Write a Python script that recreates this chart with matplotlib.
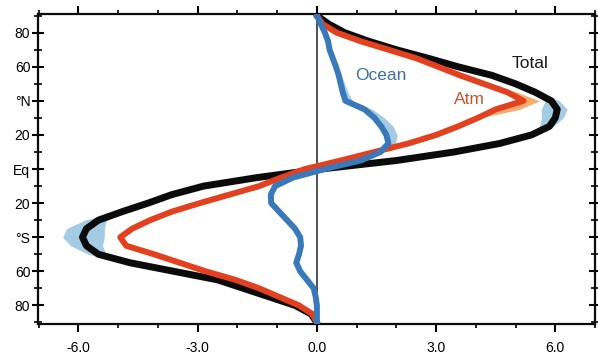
import matplotlib
matplotlib.use("Agg")
import matplotlib.pyplot as plt
from matplotlib.ticker import MultipleLocator, FixedLocator

# Zonal-mean northward heat transport (PW) by latitude
lat = [90, 85, 80, 75, 70, 65, 60, 55, 50, 45, 40, 35, 30, 25, 20, 15, 10, 5, 0,
       -5, -10, -15, -20, -25, -30, -35, -40, -45, -50, -55, -60, -65, -70, -75, -80, -85, -90]

total = [0.0, 0.3, 0.7, 1.3, 2.0, 2.8, 3.55, 4.4, 5.0, 5.5, 5.9, 6.05, 6.0, 5.85, 5.4, 4.6, 3.45, 2.0, 0.1,
         -1.5, -2.85, -3.65, -4.25, -4.9, -5.5, -5.8, -5.9, -5.8, -5.5, -4.7, -3.6, -2.5, -1.85, -1.2, -0.55, -0.15, 0.0]

atm = [0.0, 0.15, 0.5, 1.1, 1.8, 2.5, 3.05, 3.6, 4.2, 4.8, 5.2, 4.5, 4.05, 3.55, 3.0, 2.3, 1.45, 0.6, -0.3,
       -0.9, -1.45, -2.2, -2.95, -3.65, -4.2, -4.65, -4.95, -4.8, -4.1, -3.45, -2.8, -2.05, -1.45, -0.95, -0.45, -0.12, 0.0]

ocean = [0.0, 0.1, 0.2, 0.28, 0.32, 0.4, 0.48, 0.55, 0.6, 0.65, 0.72, 1.2, 1.45, 1.62, 1.75, 1.8, 1.6, 1.1, 0.2,
         -0.6, -1.05, -1.16, -1.15, -0.95, -0.75, -0.55, -0.42, -0.4, -0.45, -0.52, -0.42, -0.25, -0.08, -0.03, 0.0, 0.0, 0.0]

# Spread of alternative estimates
tot_n_lat = [50, 45, 40, 35, 30, 25, 20, 15]
tot_n_lo = [5.0, 5.45, 5.75, 5.65, 5.65, 5.6, 5.3, 4.6]
tot_n_hi = [5.0, 5.6, 6.1, 6.3, 6.2, 5.95, 5.5, 4.6]

tot_s_lat = [-20, -25, -30, -35, -40, -45, -50, -55, -60]
tot_s_lo = [-4.25, -5.0, -5.85, -6.3, -6.4, -6.2, -5.75, -4.85, -3.6]
tot_s_hi = [-4.25, -4.8, -5.3, -5.35, -5.35, -5.4, -5.3, -4.6, -3.6]

ocn_n_lat = [60, 55, 50, 45, 40, 35, 30, 25, 20, 15, 10]
ocn_n_lo = [0.48, 0.55, 0.6, 0.65, 0.72, 1.2, 1.45, 1.62, 1.75, 1.8, 1.6]
ocn_n_hi = [0.48, 0.62, 0.7, 0.78, 0.9, 1.4, 1.7, 1.92, 2.02, 1.98, 1.6]

atm_n_lat = [50, 45, 40, 35, 30]
atm_n_lo = [4.2, 4.8, 5.2, 4.5, 4.05]
atm_n_hi = [4.25, 5.05, 5.6, 5.1, 4.1]

ytick_pos = [80, 60, 40, 20, 0, -20, -40, -60, -80]
ytick_lab = ["80", "60", "°N", "20", "Eq", "20", "°S", "60", "80"]
xtick_pos = [-6, -3, 0, 3, 6]
xtick_lab = ["-6.0", "-3.0", "0.0", "3.0", "6.0"]

BLACK = "#0b0b0b"
RED = "#e2401f"
BLUE = "#3a79b9"
LBLUE = "#a3cbe3"
ORANGE = "#f6ad6c"

plt.rcParams["font.family"] = ["Liberation Sans", "DejaVu Sans"]

fig = plt.figure(figsize=(5.98, 3.57), dpi=100)
ax = fig.add_axes([0.0635, 0.092, 0.9315, 0.869])

ax.axvline(0, color="#222222", lw=1.1, zorder=1)

ax.fill_betweenx(tot_n_lat, tot_n_lo, tot_n_hi, color=LBLUE, lw=0, zorder=2)
ax.fill_betweenx(tot_s_lat, tot_s_lo, tot_s_hi, color=LBLUE, lw=0, zorder=2)
ax.fill_betweenx(ocn_n_lat, ocn_n_lo, ocn_n_hi, color=LBLUE, lw=0, zorder=2)
ax.fill_betweenx(atm_n_lat, atm_n_lo, atm_n_hi, color=ORANGE, lw=0, zorder=2)

ax.plot(total, lat, color=BLACK, lw=5.0, solid_joinstyle="round", solid_capstyle="round", zorder=3)
ax.plot(atm, lat, color=RED, lw=4.3, solid_joinstyle="round", solid_capstyle="round", zorder=4)
ax.plot(ocean, lat, color=BLUE, lw=4.3, solid_joinstyle="round", solid_capstyle="round", zorder=5)

ax.text(1.61, 55, "Ocean", color="#3f6fa3", fontsize=12.5, ha="center", va="center", zorder=6)
ax.text(3.83, 41, "Atm", color="#c9522c", fontsize=12.5, ha="center", va="center", zorder=6)
ax.text(5.37, 62, "Total", color="#1a1a1a", fontsize=12.5, ha="center", va="center", zorder=6)

ax.set_xlim(-7.02, 7.0)
ax.set_ylim(-91, 91)

for s in ax.spines.values():
    s.set_linewidth(1.6)
    s.set_color(BLACK)

ax.xaxis.set_major_locator(FixedLocator(xtick_pos))
ax.set_xticklabels(xtick_lab)
ax.xaxis.set_minor_locator(MultipleLocator(1))
ax.yaxis.set_major_locator(FixedLocator(ytick_pos))
ax.set_yticklabels(ytick_lab)
ax.yaxis.set_minor_locator(MultipleLocator(10))

ax.tick_params(axis="x", which="major", direction="out", length=6, width=1.5,
               pad=6, labelsize=10, top=True)
ax.tick_params(axis="x", which="minor", direction="out", length=3, width=1.2, top=True)
ax.tick_params(axis="y", which="major", direction="inout", length=9, width=1.5,
               pad=1, labelsize=10, right=True)
ax.tick_params(axis="y", which="minor", direction="inout", length=6, width=1.2, right=True)

fig.savefig("out.png", dpi=100)
